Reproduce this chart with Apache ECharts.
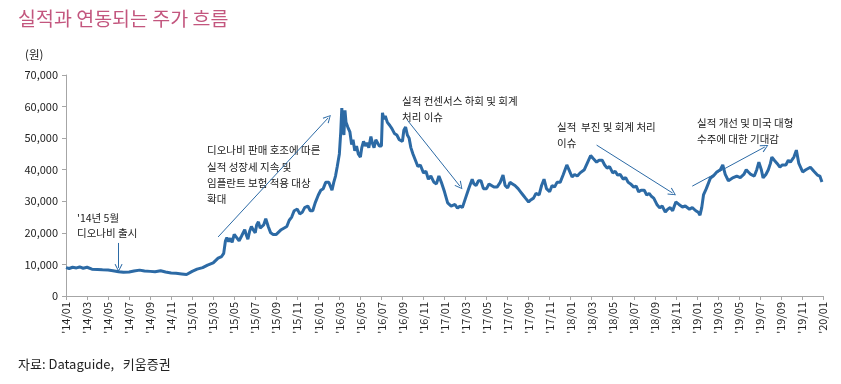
<!DOCTYPE html>
<html><head><meta charset="utf-8">
<script src="https://cdn.jsdelivr.net/npm/echarts@6/dist/echarts.min.js"></script>
<style>html,body{margin:0;padding:0;background:#fff}#c{width:841px;height:384px}</style>
</head><body><div id="c"></div>
<script>
// Price series (원)
const dates = [
'2014-01-01','2014-01-10','2014-01-20','2014-02-01','2014-02-10','2014-02-20','2014-03-01','2014-03-15','2014-04-01','2014-04-15',
'2014-05-01','2014-05-15','2014-06-01','2014-06-15','2014-07-01','2014-07-15','2014-08-01','2014-08-15','2014-09-01','2014-09-15',
'2014-10-01','2014-10-15','2014-11-01','2014-11-15','2014-12-01','2014-12-15','2015-01-01','2015-01-15','2015-02-01','2015-02-15',
'2015-03-01','2015-03-15','2015-03-25','2015-04-01','2015-04-06','2015-04-10','2015-04-15','2015-04-20','2015-04-25','2015-05-01',
'2015-05-08','2015-05-15','2015-05-22','2015-06-01','2015-06-05','2015-06-10','2015-06-15','2015-06-20','2015-06-25','2015-07-01',
'2015-07-05','2015-07-10','2015-07-15','2015-07-20','2015-07-25','2015-08-01','2015-08-08','2015-08-15','2015-08-22','2015-09-01',
'2015-09-15','2015-10-01','2015-10-08','2015-10-15','2015-10-22','2015-11-01','2015-11-08','2015-11-15','2015-11-22','2015-12-01',
'2015-12-08','2015-12-15','2015-12-22','2016-01-01','2016-01-08','2016-01-15','2016-01-22','2016-02-01','2016-02-10','2016-02-15',
'2016-02-20','2016-02-25','2016-03-01','2016-03-05','2016-03-08','2016-03-11','2016-03-14','2016-03-17','2016-03-20','2016-03-25',
'2016-04-01','2016-04-06','2016-04-10','2016-04-15','2016-04-20','2016-04-25','2016-05-01','2016-05-05','2016-05-10','2016-05-15',
'2016-05-20','2016-05-25','2016-06-01','2016-06-05','2016-06-10','2016-06-15','2016-06-20','2016-06-25','2016-07-01','2016-07-04',
'2016-07-08','2016-07-12','2016-07-18','2016-07-25','2016-08-01','2016-08-08','2016-08-15','2016-08-22','2016-09-01','2016-09-05',
'2016-09-10','2016-09-15','2016-09-20','2016-09-25','2016-10-01','2016-10-08','2016-10-15','2016-10-22','2016-11-01','2016-11-08',
'2016-11-15','2016-11-22','2016-12-01','2016-12-08','2016-12-15','2016-12-22','2017-01-01','2017-01-10','2017-01-20','2017-02-01',
'2017-02-08','2017-02-15','2017-02-22','2017-03-01','2017-03-10','2017-03-20','2017-03-25','2017-04-01','2017-04-08','2017-04-15',
'2017-04-22','2017-05-01','2017-05-08','2017-05-15','2017-05-22','2017-06-01','2017-06-10','2017-06-18','2017-06-24','2017-07-01',
'2017-07-08','2017-07-15','2017-07-22','2017-08-01','2017-08-08','2017-08-15','2017-08-22','2017-09-01','2017-09-08','2017-09-15',
'2017-09-22','2017-10-01','2017-10-08','2017-10-15','2017-10-22','2017-11-01','2017-11-08','2017-11-15','2017-11-22','2017-12-01',
'2017-12-10','2017-12-20','2017-12-26','2018-01-05','2018-01-12','2018-01-20','2018-01-28','2018-02-10','2018-02-20','2018-02-28',
'2018-03-06','2018-03-15','2018-03-22','2018-04-01','2018-04-08','2018-04-15','2018-04-22','2018-05-01','2018-05-08','2018-05-15',
'2018-05-22','2018-06-01','2018-06-08','2018-06-15','2018-06-22','2018-07-01','2018-07-08','2018-07-15','2018-07-22','2018-08-01',
'2018-08-08','2018-08-15','2018-08-22','2018-08-28','2018-09-07','2018-09-15','2018-09-22','2018-10-01','2018-10-08','2018-10-15',
'2018-10-22','2018-11-01','2018-11-10','2018-11-20','2018-11-28','2018-12-10','2018-12-18','2018-12-28','2019-01-05','2019-01-10',
'2019-01-15','2019-01-20','2019-01-28','2019-02-05','2019-02-10','2019-02-18','2019-02-28','2019-03-08','2019-03-15','2019-03-22',
'2019-04-01','2019-04-05','2019-04-15','2019-04-25','2019-05-05','2019-05-15','2019-05-22','2019-05-28','2019-06-05','2019-06-15',
'2019-06-22','2019-06-28','2019-07-05','2019-07-10','2019-07-18','2019-07-25','2019-08-01','2019-08-05','2019-08-12','2019-08-20',
'2019-08-28','2019-09-05','2019-09-15','2019-09-22','2019-09-28','2019-10-08','2019-10-15','2019-10-22','2019-11-03','2019-11-12',
'2019-11-25','2019-12-05','2019-12-15','2019-12-22','2019-12-28'
];
const prices = [
9000,8700,9100,8900,9200,8800,9100,8500,8400,8300,
8200,8000,7700,7500,7600,7900,8200,7900,7800,7700,
8000,7600,7300,7200,7000,6800,7800,8500,9000,9800,
10500,12000,12500,13500,17500,18500,17200,18300,17000,19500,
18500,17500,19000,21000,19500,18000,20500,22000,21000,20000,
22500,23500,21500,21000,22500,24500,22000,20000,19500,19500,
21000,22000,24000,25000,27000,27500,26000,26500,28000,28500,
27000,27000,29500,32000,33500,34000,36000,36000,33500,36000,
38000,41000,45000,52000,59500,53000,51000,58800,55000,53500,
52000,48000,49500,46000,47500,45000,44000,47000,49000,47500,
48500,47000,50500,48500,47000,49500,49000,47500,47500,58000,
56000,57000,55000,54000,53000,51500,51000,49500,49000,52500,
53500,51000,50000,47000,45000,43000,41000,41500,39000,39500,
37000,38000,36000,35500,38000,36000,33000,29500,28500,29000,
27800,28500,28000,31000,34000,37000,35500,35000,36500,36500,
34000,34000,35500,35000,34500,34500,36000,38300,35000,34200,
36000,35500,35000,34000,33000,32000,31000,29800,30500,31000,
32500,32000,35000,37000,34000,33000,35000,34500,36000,36000,
38500,41500,40000,37700,38500,38000,39000,40000,42500,44500,
43500,42400,43000,43000,41500,40500,41000,39000,39500,38300,
38500,37000,37500,36000,35500,34500,34800,33000,33500,33500,
32000,32500,31500,31000,29000,27900,28500,26600,27500,28000,
27000,29800,29000,28200,28500,27500,28000,27000,26500,25600,
28000,32000,34000,36000,37400,38000,39300,40000,41500,38500,
36500,36100,37500,38000,37500,38500,40000,39300,38500,38000,
40000,42400,40000,37400,38500,40000,42000,44000,43000,42000,
40800,41500,41500,43000,42400,44000,46200,42000,39300,40000,
40800,39500,38300,38000,36100
];
// x-axis tick labels: every 2 months from '14/01 to '20/01
const tickLabels = [];
for (let y = 14; y <= 20; y++) for (let m = 1; m <= 12; m += 2) { if (y === 20 && m > 1) break; tickLabels.push("'" + y + "/" + String(m).padStart(2,'0')); }
const yTicks = [0,10000,20000,30000,40000,50000,60000,70000];

// annotation arrows [startDate, startValue, endDate, endValue]
const arrows = [
  ['2014-06-01', 16800, '2014-06-01', 8900],
  ['2015-03-15', 18700, '2016-01-29', 56400],
  ['2016-09-15', 55700, '2017-02-15', 34800],
  ['2018-03-15', 47800, '2018-10-22', 32600],
  ['2018-12-18', 34800, '2019-07-15', 47200]
];
const notes = [
  {x: 77, y: 213, lines: ["'14년 5월", "디오나비 출시"], lh: 14.5},
  {x: 207, y: 145, lines: ["디오나비 판매 호조에 따른", "실적 성장세 지속 및", "임플란트 보험 적용 대상", "확대"], lh: 16.3},
  {x: 402, y: 96, lines: ["실적 컨센서스 하회 및 회계", "처리 이슈"], lh: 15.5},
  {x: 557, y: 122, lines: ["실적  부진 및 회계 처리", "이슈"], lh: 16},
  {x: 697, y: 118, lines: ["실적 개선 및 미국 대형", "수주에 대한 기대감"], lh: 15.5}
];

function mIdx(s){ const [y,m,d] = s.split('-').map(Number); return (y-2014)*12 + (m-1) + (d-1)/30; }
const data = dates.map((d,i) => [mIdx(d), prices[i]]);
const FONT = '"Noto Sans CJK KR", "Noto Sans", sans-serif';
const BLUE = '#2c6aa5';
const chev = 'path://M0,10 L5,0 L10,10 L8.8,10.6 L5,2.4 L1.2,10.6 Z';

const graphics = [
  {type:'text', left:18, top:9, style:{text:'실적과 연동되는 주가 흐름', fill:'#c3567e', font:'19.5px ' + FONT}},
  {type:'text', left:25, top:49, style:{text:'(원)', fill:'#222', font:'11.5px ' + FONT}},
  {type:'text', left:18, top:358, style:{text:'자료: Dataguide,   키움증권', fill:'#222', font:'13px ' + FONT}}
];
notes.forEach(n => n.lines.forEach((t,i) => graphics.push({type:'text', left:n.x, top:n.y + i*n.lh, style:{text:t, fill:'#222', font:'10.5px ' + FONT}})));

const chart = echarts.init(document.getElementById('c'));
chart.setOption({
  animation: false,
  grid: {left:66, right:18, top:75, bottom:88, containLabel:false},
  xAxis: {
    type:'value', min:0, max:72, interval:2,
    axisLine:{lineStyle:{color:'#a6a6a6'}},
    axisTick:{show:true, length:4, lineStyle:{color:'#a6a6a6'}},
    splitLine:{show:false},
    axisLabel:{rotate:90, color:'#222', fontSize:11, fontFamily:FONT, margin:6,
      formatter: v => tickLabels[Math.round(v/2)] || ''}
  },
  yAxis: {
    type:'value', min:yTicks[0], max:yTicks[yTicks.length-1], interval:10000,
    axisLine:{show:true, lineStyle:{color:'#a6a6a6'}},
    axisTick:{show:true, length:4, lineStyle:{color:'#a6a6a6'}},
    splitLine:{show:false},
    axisLabel:{color:'#222', fontSize:11, fontFamily:FONT, margin:8,
      formatter: v => v.toLocaleString('en-US')}
  },
  graphic: graphics,
  series: [{
    type:'line', data:data, showSymbol:false, smooth:false,
    lineStyle:{color:BLUE, width:3},
    markLine: {
      silent:true, symbol:['none', chev], symbolSize:[8,8],
      label:{show:false},
      lineStyle:{color:BLUE, width:1, type:'solid'},
      emphasis:{disabled:true},
      data: arrows.map(a => [{coord:[mIdx(a[0]), a[1]]}, {coord:[mIdx(a[2]), a[3]]}])
    }
  }]
});
</script></body></html>
